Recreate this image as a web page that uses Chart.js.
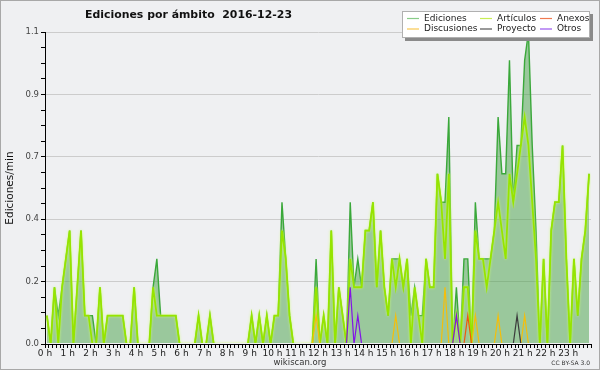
<!DOCTYPE html>
<html>
<head>
<meta charset="utf-8">
<script src="https://cdn.jsdelivr.net/npm/chart.js@4.4.0/dist/chart.umd.min.js"></script>
<style>
    html, body { margin: 0; padding: 0; background: #eff0f2; }
    canvas { display: block; }
</style>
</head>
<body>
<canvas id="chartAmbito" width="600" height="370"></canvas>
<script>
// Etiquetas de las horas del eje X
const horas = ['0 h', '1 h', '2 h', '3 h', '4 h', '5 h', '6 h', '7 h', '8 h', '9 h', '10 h', '11 h',
    '12 h', '13 h', '14 h', '15 h', '16 h', '17 h', '18 h', '19 h', '20 h', '21 h', '22 h', '23 h'];

// Ediciones por minuto, un valor cada 10 minutos (12 valores = 2 horas por fila)
const ediciones = [
    0.1, 0, 0.2, 0.1, 0.2, 0.3, 0.4, 0, 0.2, 0.4, 0.1, 0.1,
    0.1, 0, 0.2, 0, 0.1, 0.1, 0.1, 0.1, 0.1, 0, 0, 0.2,
    0, 0, 0, 0, 0.2, 0.3, 0.1, 0.1, 0.1, 0.1, 0.1, 0,
    0, 0, 0, 0, 0.1, 0, 0, 0.1, 0, 0, 0, 0,
    0, 0, 0, 0, 0, 0, 0.1, 0, 0.1, 0, 0.1, 0,
    0.1, 0.1, 0.5, 0.3, 0.1, 0, 0, 0, 0, 0, 0, 0.3,
    0, 0.1, 0, 0.4, 0, 0.2, 0.1, 0, 0.5, 0.2, 0.3, 0.2,
    0.4, 0.4, 0.5, 0.2, 0.4, 0.2, 0.1, 0.3, 0.3, 0.3, 0.2, 0.3,
    0.1, 0.2, 0.1, 0.1, 0.3, 0.2, 0.2, 0.6, 0.5, 0.5, 0.8, 0,
    0.2, 0, 0.3, 0.3, 0, 0.5, 0.3, 0.3, 0.3, 0.3, 0.4, 0.8,
    0.6, 0.6, 1.0, 0.5, 0.7, 0.7, 1.0, 1.1, 0.7, 0.4, 0, 0.3,
    0, 0.4, 0.5, 0.5, 0.7, 0.3, 0, 0.3, 0.1, 0.3, 0.4, 0.6
];

const articulos = [
    0.1, 0, 0.2, 0, 0.2, 0.3, 0.4, 0, 0.2, 0.4, 0.1, 0.1,
    0, 0, 0.2, 0, 0.1, 0.1, 0.1, 0.1, 0.1, 0, 0, 0.2,
    0, 0, 0, 0, 0.2, 0.1, 0.1, 0.1, 0.1, 0.1, 0.1, 0,
    0, 0, 0, 0, 0.1, 0, 0, 0.1, 0, 0, 0, 0,
    0, 0, 0, 0, 0, 0, 0.1, 0, 0.1, 0, 0.1, 0,
    0.1, 0.1, 0.4, 0.3, 0.1, 0, 0, 0, 0, 0, 0, 0.2,
    0, 0.1, 0, 0.4, 0, 0.2, 0.1, 0, 0.3, 0.2, 0.2, 0.2,
    0.4, 0.4, 0.5, 0.2, 0.4, 0.2, 0.1, 0.3, 0.2, 0.3, 0.2, 0.3,
    0, 0.2, 0.1, 0, 0.3, 0.2, 0.2, 0.6, 0.5, 0.3, 0.6, 0,
    0.1, 0, 0.2, 0.2, 0, 0.4, 0.3, 0.3, 0.2, 0.3, 0.4, 0.5,
    0.4, 0.3, 0.6, 0.5, 0.6, 0.7, 0.8, 0.7, 0.5, 0.3, 0, 0.3,
    0, 0.4, 0.5, 0.5, 0.7, 0.3, 0, 0.3, 0.1, 0.3, 0.4, 0.6
];

const anexos = [
    0, 0, 0, 0, 0, 0, 0, 0, 0, 0, 0, 0,
    0, 0, 0, 0, 0, 0, 0, 0, 0, 0, 0, 0,
    0, 0, 0, 0, 0, 0, 0, 0, 0, 0, 0, 0,
    0, 0, 0, 0, 0, 0, 0, 0, 0, 0, 0, 0,
    0, 0, 0, 0, 0, 0, 0, 0, 0, 0, 0, 0,
    0, 0, 0, 0, 0, 0, 0, 0, 0, 0, 0, 0,
    0, 0, 0, 0, 0, 0, 0, 0, 0, 0, 0, 0,
    0, 0, 0, 0, 0, 0, 0, 0, 0, 0, 0, 0,
    0, 0, 0, 0, 0, 0, 0, 0, 0, 0, 0, 0,
    0, 0, 0, 0.1, 0, 0, 0, 0, 0, 0, 0, 0,
    0, 0, 0, 0, 0, 0, 0, 0, 0, 0, 0, 0,
    0, 0, 0, 0, 0, 0, 0, 0, 0, 0, 0, 0
];

const discusiones = [
    0, 0, 0, 0, 0, 0, 0, 0, 0, 0, 0, 0,
    0, 0, 0, 0, 0, 0, 0, 0, 0, 0, 0, 0,
    0, 0, 0, 0, 0, 0, 0, 0, 0, 0, 0, 0,
    0, 0, 0, 0, 0, 0, 0, 0, 0, 0, 0, 0,
    0, 0, 0, 0, 0, 0, 0, 0, 0, 0, 0, 0,
    0, 0, 0, 0, 0, 0, 0, 0, 0, 0, 0, 0.1,
    0, 0, 0, 0, 0, 0, 0, 0, 0, 0, 0, 0,
    0, 0, 0, 0, 0, 0, 0, 0, 0.1, 0, 0, 0,
    0, 0, 0, 0, 0, 0, 0, 0, 0, 0.2, 0, 0,
    0, 0, 0, 0, 0, 0.1, 0, 0, 0, 0, 0, 0.1,
    0, 0, 0, 0, 0, 0, 0.1, 0, 0, 0, 0, 0,
    0, 0, 0, 0, 0, 0, 0, 0, 0, 0, 0, 0
];

const proyecto = [
    0, 0, 0, 0, 0, 0, 0, 0, 0, 0, 0, 0,
    0, 0, 0, 0, 0, 0, 0, 0, 0, 0, 0, 0,
    0, 0, 0, 0, 0, 0, 0, 0, 0, 0, 0, 0,
    0, 0, 0, 0, 0, 0, 0, 0, 0, 0, 0, 0,
    0, 0, 0, 0, 0, 0, 0, 0, 0, 0, 0, 0,
    0, 0, 0, 0, 0, 0, 0, 0, 0, 0, 0, 0,
    0, 0, 0, 0, 0, 0, 0, 0, 0, 0, 0, 0,
    0, 0, 0, 0, 0, 0, 0, 0, 0, 0, 0, 0,
    0, 0, 0, 0, 0, 0, 0, 0, 0, 0, 0, 0,
    0, 0, 0, 0, 0, 0, 0, 0, 0, 0, 0, 0,
    0, 0, 0, 0, 0.1, 0, 0, 0, 0, 0, 0, 0,
    0, 0, 0, 0, 0, 0, 0, 0, 0, 0, 0, 0
];

const otros = [
    0, 0, 0, 0, 0, 0, 0, 0, 0, 0, 0, 0,
    0, 0, 0, 0, 0, 0, 0, 0, 0, 0, 0, 0,
    0, 0, 0, 0, 0, 0, 0, 0, 0, 0, 0, 0,
    0, 0, 0, 0, 0, 0, 0, 0, 0, 0, 0, 0,
    0, 0, 0, 0, 0, 0, 0, 0, 0, 0, 0, 0,
    0, 0, 0, 0, 0, 0, 0, 0, 0, 0, 0, 0,
    0, 0, 0, 0, 0, 0, 0, 0, 0.2, 0, 0.1, 0,
    0, 0, 0, 0, 0, 0, 0, 0, 0, 0, 0, 0,
    0, 0, 0, 0, 0, 0, 0, 0, 0, 0, 0, 0,
    0.1, 0, 0, 0, 0, 0, 0, 0, 0, 0, 0, 0,
    0, 0, 0, 0, 0, 0, 0, 0, 0, 0, 0, 0,
    0, 0, 0, 0, 0, 0, 0, 0, 0, 0, 0, 0
];

// Each value sits in the middle of its 10-minute slot
const aPuntos = (serie) => serie.map((v, i) => ({ x: i * 10 + 5, y: v }));

const FUENTE = '"DejaVu Sans", Verdana, sans-serif';
const recorte = { left: 0, top: 6, right: 0, bottom: -1 };

const linea = (label, datos, color, orden, ancho) => ({
    label: label,
    data: aPuntos(datos),
    borderColor: color,
    borderWidth: ancho,
    pointRadius: 0,
    tension: 0,
    fill: false,
    clip: recorte,
    order: orden
});

// Legend: [text, sample colour, x, y]
const leyenda = [
    ['Ediciones', '#88cc88', 407, 18],
    ['Artículos', '#c8ee55', 480, 18],
    ['Anexos', '#f07a50', 540, 18],
    ['Discusiones', '#f8c850', 407, 28.5],
    ['Proyecto', '#555555', 480, 28.5],
    ['Otros', '#9955ee', 540, 28.5]
];

const decoracion = {
    id: 'decoracion',
    beforeDraw(chart) {
        const c = chart.ctx;
        c.save();
        c.fillStyle = '#eff0f2';
        c.fillRect(0, 0, chart.width, chart.height);
        c.strokeStyle = '#a8a8a8';
        c.lineWidth = 1;
        c.strokeRect(0.5, 0.5, chart.width - 1, chart.height - 1);
        c.restore();
    },
    beforeDatasetDraw(chart, args) {
        if (args.index === 1) {
            chart.ctx.save();
            chart.ctx.shadowColor = 'rgba(205,255,110,0.95)';
            chart.ctx.shadowBlur = 2.5;
        }
    },
    afterDatasetDraw(chart, args) {
        if (args.index === 1) chart.ctx.restore();
    },
    afterDraw(chart) {
        const c = chart.ctx;
        c.save();

        // title
        c.fillStyle = '#111';
        c.font = 'bold 11px ' + FUENTE;
        c.textBaseline = 'alphabetic';
        const titulo = 'Ediciones por ámbito  2016-12-23';
        const w = c.measureText(titulo).width;
        const k = Math.min(1, 207 / w);
        c.save();
        c.translate(188.5, 18);
        c.scale(k, 1);
        c.textAlign = 'center';
        c.fillText(titulo, 0, 0);
        c.restore();

        // y-axis title
        c.save();
        c.translate(13, 188);
        c.rotate(-Math.PI / 2);
        c.font = '10.5px ' + FUENTE;
        c.textAlign = 'center';
        c.fillStyle = '#111';
        c.fillText('Ediciones/min', 0, 0);
        c.restore();

        // legend
        c.fillStyle = '#8a8a8a';
        c.fillRect(405, 14, 188, 27);
        c.fillStyle = '#ffffff';
        c.fillRect(402, 11, 188, 27);
        c.strokeStyle = '#b0b0b0';
        c.strokeRect(402.5, 11.5, 187, 26);
        c.font = '9px ' + FUENTE;
        c.textAlign = 'left';
        c.textBaseline = 'middle';
        leyenda.forEach(([texto, color, x, y]) => {
            c.strokeStyle = color;
            c.lineWidth = 1.2;
            c.beginPath();
            c.moveTo(x, y + 0.5);
            c.lineTo(x + 12, y + 0.5);
            c.stroke();
            c.fillStyle = '#222';
            c.fillText(texto, x + 17, y + 0.5);
        });

        // footer
        c.textBaseline = 'alphabetic';
        c.fillStyle = '#333';
        c.font = '8.5px ' + FUENTE;
        c.textAlign = 'center';
        c.fillText('wikiscan.org', 300, 365);
        c.font = '6px ' + FUENTE;
        c.textAlign = 'right';
        c.fillText('CC BY-SA 3.0', 590, 365);
        c.restore();
    }
};

const ctxAmbito = document.getElementById('chartAmbito').getContext('2d');
const chartAmbito = new Chart(ctxAmbito, {
    type: 'line',
    data: {
        datasets: [
            {
                label: 'Ediciones',
                data: aPuntos(ediciones),
                borderColor: 'rgb(58,168,58)',
                backgroundColor: 'rgba(70,160,70,0.5)',
                borderWidth: 1.4,
                pointRadius: 0,
                tension: 0,
                fill: 'origin',
                clip: recorte,
                order: 10
            },
            linea('Artículos', articulos, 'rgb(150,228,0)', 9, 1.8),
            linea('Anexos', anexos, 'rgb(240,90,10)', 5, 1.2),
            linea('Discusiones', discusiones, 'rgb(245,190,10)', 6, 1.2),
            linea('Proyecto', proyecto, 'rgb(60,60,60)', 4, 1.2),
            linea('Otros', otros, 'rgb(130,20,230)', 3, 1.2)
        ]
    },
    options: {
        responsive: false,
        animation: false,
        devicePixelRatio: 1,
        layout: { padding: { left: 0, top: 32, right: 9, bottom: 0 } },
        plugins: {
            legend: { display: false },
            title: { display: false },
            tooltip: { enabled: false }
        },
        scales: {
            x: {
                type: 'linear',
                min: 0,
                max: 1440,
                z: 1,
                afterFit: (s) => { s.height = 26; },
                border: { display: true, color: '#000', width: 1 },
                grid: {
                    display: true,
                    drawOnChartArea: false,
                    drawTicks: true,
                    tickLength: 4,
                    color: '#000',
                    tickColor: '#000'
                },
                ticks: {
                    stepSize: 10,
                    autoSkip: false,
                    maxRotation: 0,
                    minRotation: 0,
                    padding: 0,
                    color: '#222',
                    font: { family: FUENTE, size: 9 },
                    callback: (v) => (v % 60 === 0 && v < 1440) ? horas[v / 60] : ''
                }
            },
            y: {
                min: 0,
                max: 1.1,
                afterFit: (s) => { s.width = 45; },
                border: { display: true, color: '#000', width: 1 },
                grid: {
                    color: (c) => c.index % 4 === 0 ? '#cccccc' : 'rgba(0,0,0,0)',
                    tickColor: '#000',
                    tickLength: 4,
                    drawTicks: true
                },
                ticks: {
                    stepSize: 0.055,
                    autoSkip: false,
                    padding: 2,
                    color: '#444',
                    font: { family: FUENTE, size: 8.5 },
                    callback: (v, i) => i % 4 === 0 ? v.toFixed(1) : ''
                }
            }
        }
    },
    plugins: [decoracion]
});
</script>
</body>
</html>
